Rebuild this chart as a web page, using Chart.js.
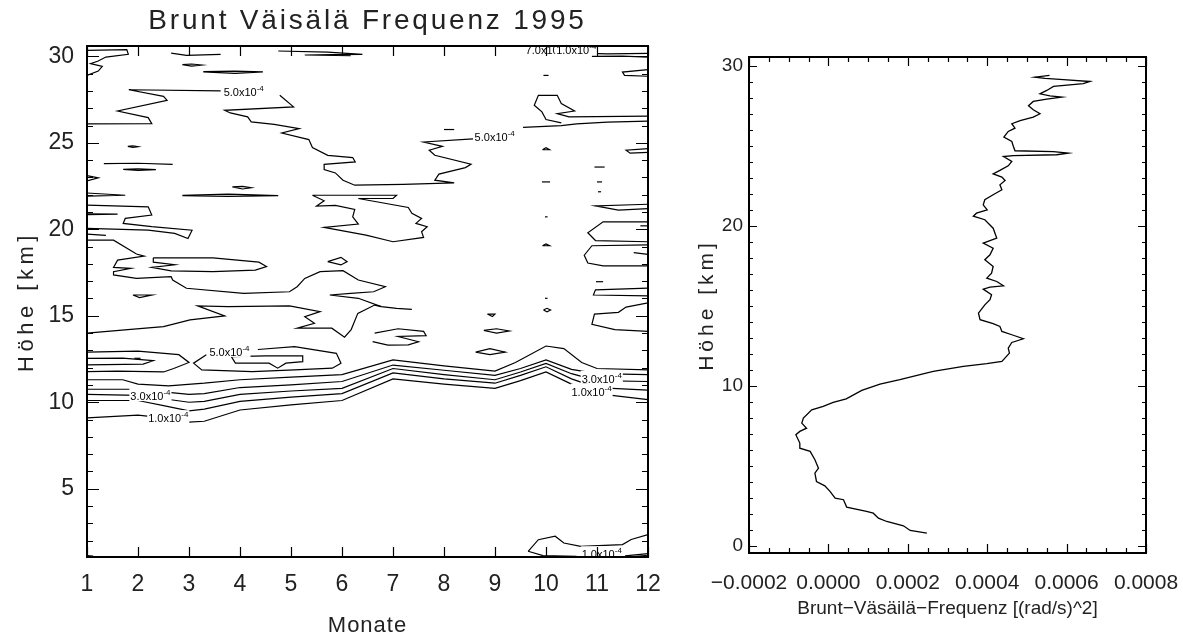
<!DOCTYPE html>
<html>
<head>
<meta charset="utf-8">
<script src="https://cdn.jsdelivr.net/npm/chart.js@4.4.0/dist/chart.umd.min.js"></script>
<style>
body{margin:0;background:#fff;width:1183px;height:634px;overflow:hidden}
#links{position:absolute;left:0;top:0}
#rechts{position:absolute;left:680px;top:0}
</style>
</head>
<body>
<canvas id="links" width="680" height="634"></canvas>
<canvas id="rechts" width="503" height="634"></canvas>
<script>
// Achsen
const monate = [1,2,3,4,5,6,7,8,9,10,11,12]
const hoeheTicks = [5,10,15,20,25,30]
const profilXTicks = [-0.0002, 0, 0.0002, 0.0004, 0.0006, 0.0008]
const profilYTicks = [0,10,20,30]

// Konturen links: [Monat, Hoehe km]
const monatBand = [1, 2, 2.5, 3, 3.3, 4, 5, 6, 7, 8, 9, 9.5, 10, 10.5, 11, 12]
const band1 = [9.1, 9.25, 9.1, 8.85, 8.9, 9.55, 9.85, 10.1, 11.35, 11.05, 10.8, 11.25, 11.75, 11.05, 10.5, 10.15]
const band2 = [10.1, 10.1, 9.8, 9.5, 9.6, 10.05, 10.3, 10.5, 11.7, 11.35, 11.1, 11.55, 12.05, 11.35, 10.85, 10.7]
const band3 = [10.45, 10.4, 10.2, 10.0, 10.05, 10.45, 10.65, 10.8, 11.95, 11.6, 11.3, 11.75, 12.25, 11.65, 11.25, 11.2]
const band4 = [10.75, 10.75, 10.6, 10.45, 10.5, 10.85, 11.0, 11.2, 12.15, 11.85, 11.55, 11.95, 12.45, 11.9, 11.65, 11.6]
const monatGrenze = [1, 1.7, 2.0, 2.6, 3.3, 4, 5, 6, 7, 8, 9, 9.4, 10, 10.35, 10.7, 11, 12]
const grenze5 = [11.3, 11.3, 11.05, 10.95, 11.1, 11.3, 11.45, 11.6, 12.45, 12.1, 11.8, 12.3, 13.25, 13.1, 12.3, 11.95, 11.87]

const obenLinks = [[1.0,30.35],[1.78,30.39],[1.81,30.12],[1.37,29.96],[1.22,29.73],[1.07,29.58],[1.30,29.42],[1.22,29.15],[1.0,28.9]]
const obenA = [[2.65,30.19],[2.95,30.06],[3.62,30.12]]
const strichA = [[2.87,29.52],[3.05,29.56],[3.25,29.5],[3.05,29.44],[2.87,29.52]]
const strichB = [[3.28,29.12],[3.9,29.15],[4.45,29.1],[3.9,29.02],[3.28,29.1]]
const obenB = [[4.75,30.31],[5.72,30.25],[6.40,30.12],[5.8,30.1],[5.27,30.08],[6.17,30.04]]
const obenRechts = [[9.6,30.18],[10.5,30.2],[11.2,30.15],[12.0,30.17]]
const obenRechts2 = [[10.9,30.0],[11.5,30.02],[12.0,29.96]]
const randRechts1 = [[12.0,29.23],[11.5,29.09],[11.54,28.9],[12.0,28.85]]
const gross5a = [[1.0,26.1],[2.27,26.11],[2.20,26.46],[1.60,26.84],[2.57,27.46],[2.50,27.69],[1.82,28.07],[3.62,28.0]]
const gross5b = [[4.78,27.75],[5.05,27.08],[3.70,26.88],[3.81,26.73],[4.15,26.50],[4.22,26.21],[4.67,26.07],[5.16,25.82],[4.82,25.57],[5.35,25.19],[5.42,24.73],[5.72,24.28],[6.21,24.15],[6.26,23.90],[5.65,23.76],[5.65,23.46],[5.87,23.26],[6.02,22.84],[6.25,22.55],[7.2,22.6],[8.2,22.68],[7.82,22.84],[7.90,23.19],[8.42,23.57],[8.53,23.76],[7.82,24.28],[7.71,24.57],[7.97,24.80],[7.60,25.05],[8.57,25.23]]
const gross5c = [[9.55,25.9],[10.3,26.0],[10.6,26.1],[11.2,26.2],[12.0,26.25]]
const wolke = [[12.0,26.54],[10.45,26.50],[10.22,26.69],[10.56,26.84],[10.30,27.27],[10.22,27.75],[9.85,27.75],[9.77,27.17],[9.92,26.79],[10.0,26.35],[10.3,26.15]]
const strichC = [[1.8,24.8],[1.9,24.83],[2.0,24.78],[1.9,24.74],[1.8,24.8]]
const linieC = [[1.33,23.8],[2.0,23.82],[2.68,23.76]]
const ellC = [[1.71,23.47],[2.0,23.5],[2.35,23.45],[2.0,23.4],[1.71,23.47]]
const strichD = [[8.0,25.77],[8.2,25.77]]
const dreieck1 = [[9.93,24.6],[10.07,24.6],[10.0,24.72],[9.93,24.6]]
const strichE = [[10.95,23.6],[11.15,23.6]]
const strichF = [[9.92,22.74],[10.08,22.74]]
const strichG = [[9.95,28.9],[10.05,28.9]]
const randRechts2 = [[12.0,24.66],[11.57,24.57],[11.65,24.4],[12.0,24.45]]
const randLinks2 = [[1.0,23.1],[1.22,22.97],[1.0,22.8]]
const ellD = [[3.85,22.45],[4.05,22.48],[4.22,22.4],[4.05,22.33],[3.85,22.45]]
const ellE = [[2.87,21.97],[3.77,22.03],[4.75,21.95],[3.77,21.9],[2.87,21.95]]
const schleife = [[5.42,21.97],[7.07,21.97],[7.00,21.78],[6.32,21.78],[7.30,21.26],[7.37,20.92],[7.56,20.63],[7.45,20.34],[7.67,20.15],[7.56,19.86],[7.60,19.53],[7.00,19.28],[6.47,19.66],[5.65,20.11],[6.32,20.30],[6.21,20.72],[6.25,21.15],[5.87,21.38],[5.50,21.34],[5.65,21.65],[5.42,21.97]]
const links20a = [[1.0,22.1],[1.75,21.97],[1.0,21.92]]
const links20b = [[1.0,21.40],[2.20,21.30],[2.27,20.82],[1.75,20.63],[1.71,20.34],[2.27,20.15],[3.06,19.95],[2.98,19.47],[2.72,19.76],[2.20,19.95],[1.0,20.05]]
const links20c = [[1.0,20.9],[1.6,20.88],[1.0,20.85]]
const links20d = [[1.0,19.72],[1.37,19.65]]
const aussen = [[1.0,19.37],[1.52,19.37],[1.97,18.57],[2.12,18.45],[1.6,18.22],[1.52,17.8],[1.86,17.74],[1.52,17.55],[1.52,17.36],[1.97,17.16],[2.65,17.26],[2.68,17.07],[2.95,16.59],[4.07,16.30],[4.97,16.39],[5.12,16.68],[5.27,17.16],[5.57,17.55],[6.02,17.61],[6.32,17.07],[6.85,16.68],[6.62,16.39],[6.17,16.30],[5.76,16.20],[6.32,16.01],[6.77,15.53],[7.07,15.43],[7.37,15.37]]
const innen = [[2.3,18.35],[3.47,18.35],[4.37,18.1],[4.52,17.85],[4.3,17.64],[3.47,17.55],[2.65,17.6],[2.27,17.8],[2.72,17.95],[2.3,18.1],[2.3,18.35]]
const raute = [[5.72,18.13],[5.98,18.38],[6.10,18.13],[5.98,17.94],[5.72,18.13]]
const dreieck2 = [[1.9,16.2],[2.27,16.2],[2.03,16.05],[1.9,16.2]]
const unten15 = [[1.0,14.0],[1.8,14.2],[2.5,14.37],[3.02,14.76],[3.70,14.99],[3.17,15.57],[3.77,15.53],[4.97,15.57],[5.57,15.24],[5.27,14.95],[5.46,14.56],[5.12,14.28],[5.8,14.28],[6.05,13.76],[6.18,14.2],[6.31,15.14],[6.64,15.62],[6.77,15.53]]
const zacke = [[6.64,14.0],[7.1,14.25],[7.6,14.1],[7.65,13.85],[7.1,13.8],[7.5,13.5],[7.3,13.32],[6.9,13.3],[6.6,13.5]]
const ellF = [[8.78,14.15],[9.03,14.25],[9.28,14.12],[9.03,14.0],[8.78,14.15]]
const ellG = [[8.62,12.9],[8.9,13.1],[9.2,12.9],[8.9,12.75],[8.62,12.9]]
const dreieck3 = [[8.85,15.1],[9.0,15.1],[8.95,14.95],[8.85,15.1]]
const kreis = [[9.95,15.33],[10.02,15.43],[10.09,15.33],[10.02,15.23],[9.95,15.33]]
const punktA = [[9.98,16.01],[10.03,16.01]]
const dreieck4 = [[9.93,19.05],[10.07,19.05],[10.0,19.15],[9.93,19.05]]
const punktB = [[9.98,20.72],[10.03,20.72]]
const strichH = [[11.0,22.74],[11.1,22.74]]
const strichI = [[11.02,22.17],[11.08,22.17]]
const rechts15 = [[12.0,15.75],[11.57,15.5],[11.42,15.2],[10.95,15.1],[10.9,14.5],[11.35,14.2],[12.0,14.1]]
const rechts21 = [[12.0,21.45],[10.97,21.35],[11.42,21.11],[12.0,21.2]]
const rechts20 = [[12.0,20.43],[11.12,20.43],[10.82,19.8],[10.97,19.35],[12.0,19.28]]
const rechts20b = [[11.85,20.2],[12.0,20.2]]
const rechts18 = [[12.0,19.1],[10.9,19.05],[10.75,18.5],[10.82,18.05],[11.12,17.88],[12.0,17.88]]
const rechts18b = [[11.72,18.65],[12.0,18.55]]
const rechts17 = [[10.98,16.97],[11.12,16.97]]
const rechts16 = [[12.0,16.6],[10.97,16.5],[10.93,16.2],[12.0,16.15]]
const ellipse5 = [[4.35,13.05],[5.07,13.22],[5.89,12.83],[5.98,12.26],[5.81,11.97],[5.07,11.87],[4.24,11.77],[3.25,11.87],[3.09,12.26],[3.34,12.74]]
const ellipse5innen = [[3.83,12.64],[4.5,12.68],[5.23,12.68],[5.23,12.35],[4.9,12.26],[4.74,11.97],[4.57,12.26],[3.91,12.26],[3.83,12.64]]
const strichJ = [[1.93,12.54],[2.05,12.54]]
const links12a = [[1.0,12.9],[2.0,12.95],[2.8,12.75],[3.0,12.3],[2.7,11.95],[2.5,11.75],[1.6,11.8],[1.0,11.77]]
const links12b = [[1.0,12.54],[1.7,12.55],[2.3,12.4],[2.1,12.2],[1.0,12.16]]
const boden1 = [[9.65,1.38],[9.85,2.05],[10.18,2.25],[10.35,1.86],[10.68,1.67],[11.5,1.77],[11.67,2.06],[12.0,2.34]]
const boden2 = [[9.65,1.38],[9.94,1.13],[10.6,1.09]]
const boden3 = [[11.55,1.12],[12.0,1.25]]
const boden4 = [[11.7,1.08],[12.0,1.15]]
const boden5 = [[1.0,1.13],[1.12,1.1]]

const konturen = [obenLinks, obenA, strichA, strichB, obenB, obenRechts, obenRechts2, randRechts1,
  gross5a, gross5b, gross5c, wolke, strichC, linieC, ellC, strichD, dreieck1, strichE, strichF, strichG,
  randRechts2, randLinks2, ellD, ellE, schleife, links20a, links20b, links20c, links20d, aussen, innen,
  raute, dreieck2, unten15, zacke, ellF, ellG, dreieck3, kreis, punktA, dreieck4, punktB, strichH, strichI,
  rechts15, rechts21, rechts20, rechts20b, rechts18, rechts18b, rechts17, rechts16, ellipse5, ellipse5innen,
  strichJ, links12a, links12b, boden1, boden2, boden3, boden4, boden5,
  monatBand.map((m, i) => [m, band1[i]]),
  monatBand.map((m, i) => [m, band2[i]]),
  monatBand.map((m, i) => [m, band3[i]]),
  monatBand.map((m, i) => [m, band4[i]]),
  monatGrenze.map((m, i) => [m, grenze5[i]])]

// Beschriftung der Konturen
const konturText = [
  {m: 3.68, h: 27.9, t: '5.0x10'},
  {m: 8.6, h: 25.3, t: '5.0x10'},
  {m: 3.4, h: 12.85, t: '5.0x10'},
  {m: 1.85, h: 10.3, t: '3.0x10'},
  {m: 2.2, h: 9.02, t: '1.0x10'},
  {m: 10.7, h: 11.3, t: '3.0x10'},
  {m: 10.5, h: 10.55, t: '1.0x10'},
  {m: 10.7, h: 1.15, t: '1.0x10'},
  {m: 9.6, h: 30.3, t: '7.0x10'},
  {m: 10.2, h: 30.3, t: '1.0x10'}
]

// Profil rechts
const profilWert = [2.48e-4, 2.06e-4, 1.89e-4, 1.47e-4, 1.26e-4, 1.13e-4, 0.96e-4, 0.46e-4, 0.38e-4, 0.17e-4,
  0.04e-4, -0.09e-4, -0.30e-4, -0.34e-4, -0.25e-4, -0.34e-4, -0.46e-4, -0.72e-4, -0.72e-4, -0.82e-4,
  -0.72e-4, -0.55e-4, -0.67e-4, -0.63e-4, -0.42e-4, -0.13e-4, 0.12e-4, 0.45e-4, 0.84e-4, 1.30e-4,
  1.80e-4, 2.64e-4, 3.40e-4, 3.99e-4, 4.37e-4, 4.56e-4, 4.53e-4, 4.62e-4, 4.91e-4, 4.62e-4,
  4.37e-4, 4.32e-4, 4.15e-4, 3.82e-4, 3.78e-4, 3.94e-4, 4.07e-4, 4.11e-4, 3.90e-4, 4.07e-4,
  4.41e-4, 4.24e-4, 3.99e-4, 4.11e-4, 4.15e-4, 3.94e-4, 4.07e-4, 4.15e-4, 3.90e-4, 4.24e-4,
  4.15e-4, 3.94e-4, 3.65e-4, 3.73e-4, 4.00e-4, 3.90e-4, 3.94e-4, 4.15e-4, 4.37e-4, 4.32e-4,
  4.45e-4, 4.37e-4, 4.15e-4, 4.32e-4, 4.53e-4, 4.62e-4, 4.41e-4, 4.66e-4, 5.75e-4, 6.04e-4,
  5.67e-4, 4.70e-4, 4.66e-4, 4.62e-4, 4.42e-4, 4.53e-4, 4.70e-4, 4.62e-4, 4.83e-4, 5.16e-4,
  5.33e-4, 5.16e-4, 5.04e-4, 5.16e-4, 5.50e-4, 5.88e-4, 5.58e-4, 5.33e-4, 5.50e-4, 5.67e-4,
  6.42e-4, 6.59e-4, 5.92e-4, 5.46e-4, 5.20e-4, 5.57e-4]
const profilHoehe = [0.79, 0.96, 1.25, 1.52, 1.73, 2.04, 2.15, 2.42, 2.88, 2.98,
  3.40, 3.75, 4.02, 4.54, 4.85, 5.38, 5.90, 6.10, 6.42, 6.94,
  7.15, 7.35, 7.67, 7.98, 8.50, 8.71, 8.96, 9.18, 9.71, 10.10,
  10.38, 10.90, 11.21, 11.38, 11.52, 12.04, 12.35, 12.71, 12.94, 13.19,
  13.40, 13.71, 13.88, 14.13, 14.54, 15.06, 15.38, 15.69, 16.04, 16.17,
  16.25, 16.52, 16.73, 17.04, 17.46, 17.88, 18.19, 18.60, 18.92, 19.23,
  19.85, 20.38, 20.60, 20.79, 21.00, 21.31, 21.63, 21.94, 22.25, 22.56,
  22.83, 23.04, 23.25, 23.46, 23.75, 24.02, 24.33, 24.38, 24.44, 24.54,
  24.63, 24.69, 24.96, 25.27, 25.54, 25.90, 26.10, 26.38, 26.58, 26.79,
  27.00, 27.25, 27.50, 27.77, 27.92, 28.04, 28.12, 28.25, 28.46, 28.71,
  28.88, 29.02, 29.13, 29.21, 29.29, 29.40]

const schrift = "'Liberation Sans', sans-serif"
Chart.defaults.font.family = schrift
Chart.defaults.color = '#222'

// Nebenstriche
const hoeheMinor = []
for (let h = 2; h <= 30; h++) if (h % 5) hoeheMinor.push(h)
const profilXMinor = []
for (let k = -3; k < 16; k++) if (k % 4) profilXMinor.push(k * 0.00005)
const profilYMinor = []
for (let h = 1; h < 30; h++) if (h % 10) profilYMinor.push(h)

// Rahmen und Striche nach innen, wie in IDL
const rahmen = {
  id: 'rahmen',
  afterDatasetsDraw(chart, args, o) {
    const {ctx, chartArea: a} = chart
    const x = chart.scales.x, y = chart.scales.y
    ctx.save()
    ctx.strokeStyle = '#000'
    ctx.lineWidth = 1.2
    ctx.beginPath()
    const xStriche = (werte, len) => werte.forEach(v => {
      const p = Math.round(x.getPixelForValue(v)) + 0.5
      ctx.moveTo(p, a.bottom); ctx.lineTo(p, a.bottom - len)
      ctx.moveTo(p, a.top); ctx.lineTo(p, a.top + len)
    })
    const yStriche = (werte, len) => werte.forEach(v => {
      const p = Math.round(y.getPixelForValue(v)) + 0.5
      ctx.moveTo(a.left, p); ctx.lineTo(a.left + len, p)
      ctx.moveTo(a.right, p); ctx.lineTo(a.right - len, p)
    })
    xStriche(o.xMajor, o.xLen)
    if (o.xMinor) xStriche(o.xMinor, o.xMinorLen)
    yStriche(o.yMajor, o.yLen)
    if (o.yMinor) yStriche(o.yMinor, o.yMinorLen)
    ctx.stroke()
    ctx.lineWidth = 2
    ctx.strokeRect(a.left, a.top, a.right - a.left, a.bottom - a.top)
    ctx.restore()
  }
}

// gesperrte Schrift fuer Titel (wie die Vektorschrift im Original)
const sperrung = {
  id: 'sperrung',
  beforeDraw(chart, args, o) {
    const wickeln = (obj, name, abstand) => {
      if (!obj || !abstand || obj['_gesperrt' + name]) return
      const f = obj[name]
      obj['_gesperrt' + name] = true
      obj[name] = function (...a) {
        const c = chart.ctx
        c.save()
        c.letterSpacing = abstand + 'px'
        f.apply(this, a)
        c.restore()
      }
    }
    wickeln(chart.titleBlock, 'draw', o.titel)
    wickeln(chart.scales.x, 'drawTitle', o.xTitel)
    wickeln(chart.scales.y, 'drawTitle', o.yTitel)
  }
}

const beschriftung = {
  id: 'beschriftung',
  afterDatasetsDraw(chart, args, o) {
    if (!o.liste) return
    const {ctx} = chart
    const x = chart.scales.x, y = chart.scales.y
    ctx.save()
    ctx.beginPath()
    ctx.rect(chart.chartArea.left, chart.chartArea.top, chart.chartArea.width, chart.chartArea.height)
    ctx.clip()
    o.liste.forEach(l => {
      const px = x.getPixelForValue(l.m), py = y.getPixelForValue(l.h)
      ctx.font = "11px " + schrift
      const b1 = ctx.measureText(l.t).width
      ctx.font = "8px " + schrift
      const b2 = ctx.measureText('-4').width
      ctx.fillStyle = '#fff'
      ctx.fillRect(px - 1, py - 9, b1 + b2 + 2, 13)
      ctx.fillStyle = '#000'
      ctx.textBaseline = 'alphabetic'
      ctx.font = "11px " + schrift
      ctx.fillText(l.t, px, py + 3)
      ctx.font = "8px " + schrift
      ctx.fillText('-4', px + b1, py - 2)
    })
    ctx.restore()
  }
}

const linie = punkte => ({
  data: punkte.map(p => ({x: p[0], y: p[1]})),
  borderColor: '#000',
  borderWidth: 1.2,
  pointRadius: 0,
  tension: 0,
  fill: false
})

new Chart(document.getElementById("links"), {
  type: 'line',
  data: {datasets: konturen.map(linie)},
  options: {
    responsive: false,
    animation: false,
    layout: {padding: {right: 32}},
    plugins: {
      legend: {display: false},
      tooltip: {enabled: false},
      title: {
        display: true,
        fullSize: false,
        text: 'Brunt Väisälä Frequenz 1995',
        font: {size: 28, weight: 'normal'},
        color: '#222',
        padding: {top: 4, bottom: 8.4}
      },
      sperrung: {titel: 2.8, xTitel: 1, yTitel: 4.5},
      beschriftung: {liste: konturText},
      rahmen: {xMajor: monate, xLen: 10, yMajor: hoeheTicks, yLen: 12, yMinor: hoeheMinor, yMinorLen: 6}
    },
    scales: {
      x: {
        type: 'linear', min: 1, max: 12,
        afterBuildTicks: s => { s.ticks = monate.map(v => ({value: v})) },
        afterFit: s => { s.height = 77; s.paddingLeft = 0; s.paddingRight = 0 },
        grid: {display: false, drawTicks: false},
        border: {display: false},
        ticks: {font: {size: 23}, padding: 14, maxRotation: 0, autoSkip: false},
        title: {display: true, text: 'Monate', font: {size: 22}, padding: -5}
      },
      y: {
        type: 'linear', min: 1.05, max: 30.6,
        afterBuildTicks: s => { s.ticks = hoeheTicks.map(v => ({value: v})) },
        afterFit: s => { s.width = 87 },
        grid: {display: false, drawTicks: false},
        border: {display: false},
        ticks: {font: {size: 23}, padding: 13, autoSkip: false},
        title: {display: true, text: 'Höhe [km]', font: {size: 22}, padding: {top: 14, bottom: 0}}
      }
    }
  },
  plugins: [sperrung, beschriftung, rahmen]
})

new Chart(document.getElementById("rechts"), {
  type: 'line',
  data: {
    datasets: [{
      data: profilWert.map((w, i) => ({x: w, y: profilHoehe[i]})),
      borderColor: '#000',
      borderWidth: 1.3,
      pointRadius: 0,
      tension: 0,
      fill: false
    }]
  },
  options: {
    responsive: false,
    animation: false,
    layout: {padding: {top: 57, right: 37}},
    plugins: {
      legend: {display: false},
      tooltip: {enabled: false},
      sperrung: {yTitel: 4},
      rahmen: {xMajor: profilXTicks, xLen: 9, xMinor: profilXMinor, xMinorLen: 5, yMajor: profilYTicks, yLen: 8, yMinor: profilYMinor, yMinorLen: 4}
    },
    scales: {
      x: {
        type: 'linear', min: -0.0002, max: 0.0008,
        afterBuildTicks: s => { s.ticks = profilXTicks.map(v => ({value: v})) },
        afterFit: s => { s.height = 81; s.paddingLeft = 0; s.paddingRight = 0 },
        grid: {display: false, drawTicks: false},
        border: {display: false},
        ticks: {
          font: {size: 21}, padding: 18, maxRotation: 0, autoSkip: false,
          callback: v => (v < 0 ? '\u2212' : '') + Math.abs(v).toFixed(4)
        },
        title: {display: true, text: 'Brunt\u2212Väsäilä\u2212Frequenz [(rad/s)^2]', font: {size: 19}, padding: 13.5}
      },
      y: {
        type: 'linear', min: -0.45, max: 30.55,
        afterBuildTicks: s => { s.ticks = profilYTicks.map(v => ({value: v})) },
        afterFit: s => { s.width = 69; s.paddingTop = 0; s.paddingBottom = 0 },
        grid: {display: false, drawTicks: false},
        border: {display: false},
        ticks: {font: {size: 19}, padding: 6, autoSkip: false},
        title: {display: true, text: 'Höhe [km]', font: {size: 21}, padding: {top: 15, bottom: 0}}
      }
    }
  },
  plugins: [sperrung, rahmen]
})
</script>
</body>
</html>
